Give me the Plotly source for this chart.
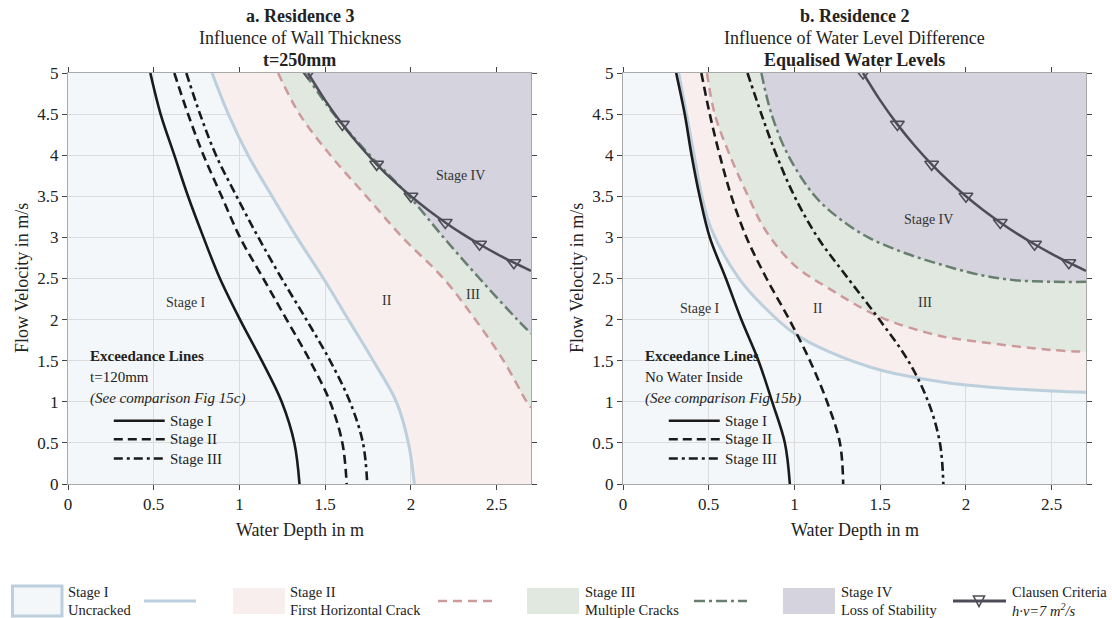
import plotly.graph_objects as go
from plotly.subplots import make_subplots

# ---------------- data ----------------
X_MAX = 2.7
Y_MAX = 5.0
X_TICKS = [0, 0.5, 1, 1.5, 2, 2.5]
X_TICK_LABELS = ["0", "0.5", "1", "1.5", "2", "2.5"]
Y_TICKS = [0, 0.5, 1, 1.5, 2, 2.5, 3, 3.5, 4, 4.5, 5]
Y_TICK_LABELS = ["0", "0.5", "1", "1.5", "2", "2.5", "3", "3.5", "4", "4.5", "5"]

# velocity levels at which the exceedance lines were read (top to bottom)
V_LEVELS = [5.0, 4.5, 4.0, 3.5, 3.0, 2.5, 2.0, 1.5, 1.0, 0.5, 0.0]

# Panel a: Residence 3, t=250mm (boundaries) and t=120mm (exceedance lines)
A_EXC1_H = [0.48, 0.54, 0.62, 0.70, 0.79, 0.886, 1.003, 1.13, 1.246, 1.32, 1.35]
A_EXC2_H = [0.62, 0.70, 0.79, 0.896, 1.003, 1.139, 1.275, 1.411, 1.528, 1.60, 1.625]
A_EXC3_H = [0.69, 0.77, 0.863, 0.983, 1.11, 1.246, 1.39, 1.528, 1.644, 1.72, 1.745]
A_S1_H = [0.84, 0.935, 1.05, 1.19, 1.335, 1.49, 1.635, 1.78, 1.915, 1.985, 2.02]
A_S2_H = [1.225, 1.35, 1.53, 1.74, 1.95, 2.19, 2.375, 2.54, 2.675, 2.70]
A_S2_V = [5.0, 4.5, 4.0, 3.5, 3.0, 2.5, 2.0, 1.5, 1.0, 0.93]
A_S3_H = [1.38, 1.55, 1.76, 1.99, 2.19, 2.40, 2.62, 2.70]
A_S3_V = [5.0, 4.5, 4.0, 3.5, 3.0, 2.5, 2.0, 1.83]

# Panel b: Residence 2, equalised water levels (boundaries), no water inside (exceedance)
B_EXC1_H = [0.31, 0.36, 0.40, 0.447, 0.506, 0.60, 0.69, 0.79, 0.87, 0.944, 0.973]
B_EXC2_H = [0.457, 0.506, 0.564, 0.632, 0.72, 0.837, 0.97, 1.09, 1.19, 1.265, 1.284]
B_EXC3_H = [0.726, 0.807, 0.895, 1.00, 1.135, 1.313, 1.495, 1.663, 1.78, 1.848, 1.868]
B_S1_H = [0.325, 0.37, 0.415, 0.46, 0.515, 0.68, 0.82, 1.00, 1.20, 1.50, 1.85, 2.00, 2.50, 2.70]
B_S1_V = [5.0, 4.5, 4.0, 3.5, 3.1, 2.49, 2.16, 1.83, 1.61, 1.387, 1.245, 1.205, 1.13, 1.116]
B_S2_H = [0.49, 0.535, 0.623, 0.73, 0.83, 1.00, 1.20, 1.50, 1.85, 2.00, 2.50, 2.70]
B_S2_V = [5.0, 4.5, 4.0, 3.5, 3.09, 2.66, 2.38, 2.03, 1.80, 1.75, 1.63, 1.61]
B_S3_H = [0.807, 0.866, 0.963, 1.12, 1.274, 1.43, 1.644, 1.87, 2.09, 2.286, 2.50, 2.70]
B_S3_V = [5.0, 4.5, 4.0, 3.5, 3.21, 3.0, 2.81, 2.66, 2.54, 2.48, 2.46, 2.46]

# Clausen criterion h*v = 7 m^2/s (read values)
CLAUSEN_H = [1.4, 1.5, 1.6, 1.7, 1.8, 1.9, 2.0, 2.1, 2.2, 2.3, 2.4, 2.5, 2.6, 2.7]
CLAUSEN_V = [5.0, 4.667, 4.375, 4.118, 3.889, 3.684, 3.5, 3.333, 3.182, 3.043, 2.917, 2.8, 2.692, 2.593]

# ---------------- styles ----------------
FONT = "Liberation Serif"
C_S1_FILL = "#f3f7f9"
C_S2_FILL = "#f8eeee"
C_S3_FILL = "#e1e8df"
C_S4_FILL = "#d5d3de"
C_S1_LINE = "#bccfdc"
C_S2_LINE = "#cc9a9a"
C_S3_LINE = "#677f6f"
C_CLAUSEN = "#4d4d57"
C_BLACK = "#1a1a1a"
DASH = "9px,5px"
DASHDOT = "9px,4px,3px,4px"
DASH_PINK = "9px,6px"
DASHDOT_GREEN = "11px,4px,3px,4px"

W, H = 1112, 618
def px(v):
    return v / W
def py(v):
    return 1 - v / H

fig = make_subplots(rows=1, cols=2)

def none_line():
    return dict(color="rgba(0,0,0,0)", width=1)

def add_panel(col, exc, s1, s2, s3):
    # filled regions: each boundary + right edge, layered
    for (bh, bv), fillc in [(s1, C_S2_FILL), (s2, C_S3_FILL), (s3, C_S4_FILL)]:
        fig.add_trace(go.Scatter(x=bh, y=bv, mode="lines",
                                 line=dict(color="rgba(0,0,0,0)", width=1, shape="spline"),
                                 hoverinfo="skip", showlegend=False), row=1, col=col)
        fig.add_trace(go.Scatter(x=[X_MAX, X_MAX], y=[Y_MAX, 0], mode="lines",
                                 line=none_line(), fill="tonexty", fillcolor=fillc,
                                 hoverinfo="skip", showlegend=False), row=1, col=col)
    # boundary lines
    fig.add_trace(go.Scatter(x=s1[0], y=s1[1], mode="lines",
                             line=dict(color=C_S1_LINE, width=3, shape="spline"),
                             showlegend=False), row=1, col=col)
    fig.add_trace(go.Scatter(x=s2[0], y=s2[1], mode="lines",
                             line=dict(color=C_S2_LINE, width=2.5, dash=DASH_PINK, shape="spline"),
                             showlegend=False), row=1, col=col)
    fig.add_trace(go.Scatter(x=s3[0], y=s3[1], mode="lines",
                             line=dict(color=C_S3_LINE, width=2.5, dash=DASHDOT_GREEN, shape="spline"),
                             showlegend=False), row=1, col=col)
    # Clausen
    fig.add_trace(go.Scatter(x=CLAUSEN_H, y=CLAUSEN_V, mode="lines",
                             line=dict(color=C_CLAUSEN, width=2.5, shape="spline"),
                             showlegend=False), row=1, col=col)
    fig.add_trace(go.Scatter(x=CLAUSEN_H[:-1:2], y=CLAUSEN_V[:-1:2], mode="markers",
                             marker=dict(symbol="triangle-down-open", size=12,
                                         color=C_CLAUSEN, line=dict(width=1.6, color=C_CLAUSEN)),
                             showlegend=False), row=1, col=col)
    # exceedance lines
    for hx, dash in zip(exc, ["solid", DASH, DASHDOT]):
        fig.add_trace(go.Scatter(x=hx, y=V_LEVELS, mode="lines",
                                 line=dict(color=C_BLACK, width=2.6, dash=dash, shape="spline"),
                                 showlegend=False), row=1, col=col)

add_panel(1, [A_EXC1_H, A_EXC2_H, A_EXC3_H], (A_S1_H, V_LEVELS), (A_S2_H, A_S2_V), (A_S3_H, A_S3_V))
add_panel(2, [B_EXC1_H, B_EXC2_H, B_EXC3_H], (B_S1_H, B_S1_V), (B_S2_H, B_S2_V), (B_S3_H, B_S3_V))

axis_common = dict(showgrid=True, gridcolor="#dcdcdc", gridwidth=1.3, zeroline=False,
                   showline=True, linecolor="#a9a9a9", linewidth=1, mirror="ticks",
                   ticks="outside", ticklen=5, tickcolor="#444", tickwidth=1, automargin=False,
                   tickfont=dict(family=FONT, size=17, color="#222"))
fig.update_xaxes(range=[0, X_MAX], tickvals=X_TICKS, ticktext=X_TICK_LABELS, **axis_common)
fig.update_yaxes(range=[0, Y_MAX], tickvals=Y_TICKS, ticktext=Y_TICK_LABELS, **axis_common)
fig.update_layout(
    xaxis=dict(domain=[px(68), px(531)]),
    xaxis2=dict(domain=[px(623), px(1086)]),
    yaxis=dict(domain=[py(484), py(73)]),
    yaxis2=dict(domain=[py(484), py(73)]),
)

ann = []
def text(x, y, s, size=15, xref="paper", yref="paper", xanchor="center", yanchor="middle", angle=0, color="#222"):
    ann.append(dict(x=x, y=y, xref=xref, yref=yref, text=s, showarrow=False,
                    xanchor=xanchor, yanchor=yanchor, textangle=angle,
                    font=dict(family=FONT, size=size, color=color)))

# titles
for cx, l1, l2, l3 in [(299.5, "<b>a. Residence 3</b>", "Influence of Wall Thickness", "<b>t=250mm</b>"),
                       (854.5, "<b>b. Residence 2</b>", "Influence of Water Level Difference", "<b>Equalised Water Levels</b>")]:
    text(px(cx), py(16), l1, size=18)
    text(px(cx), py(38), l2, size=18)
    text(px(cx), py(60), l3, size=18)
    text(px(cx), py(530), "Water Depth in m", size=18)
for x in [22, 577]:
    text(px(x), py(278), "Flow Velocity in m/s", size=18, angle=-90)

# region labels
for s, x, y in [("Stage I", 0.69, 2.21), ("II", 1.86, 2.23), ("III", 2.36, 2.31), ("Stage IV", 2.29, 3.75)]:
    text(x, y, s, size=14, xref="x", yref="y", color="#333")
for s, x, y in [("Stage I", 0.45, 2.14), ("II", 1.14, 2.14), ("III", 1.76, 2.21), ("Stage IV", 1.78, 3.22)]:
    text(x, y, s, size=14, xref="x2", yref="y2", color="#333")

# exceedance legend blocks
shapes = []
for xr, yr, sub, ref in [("x", "y", "t=120mm", "(See comparison Fig 15c)"),
                         ("x2", "y2", "No Water Inside", "(See comparison Fig 15b)")]:
    text(0.117, 1.56, "<b>Exceedance Lines</b>", size=15, xref=xr, yref=yr, xanchor="left")
    text(0.117, 1.30, sub, size=15, xref=xr, yref=yr, xanchor="left")
    text(0.117, 1.04, "<i>" + ref + "</i>", size=15, xref=xr, yref=yr, xanchor="left")
    for lab, yy, dash in [("Stage I", 0.77, "solid"), ("Stage II", 0.544, DASH), ("Stage III", 0.31, DASHDOT)]:
        shapes.append(dict(type="line", xref=xr, yref=yr, x0=0.267, x1=0.564, y0=yy, y1=yy,
                           line=dict(color=C_BLACK, width=2.6, dash=dash)))
        text(0.585, yy, lab, size=15, xref=xr, yref=yr, xanchor="left")

# bottom legend
def box(x0, x1, y0, y1, fill, line=None):
    shapes.append(dict(type="rect", xref="paper", yref="paper", x0=px(x0), x1=px(x1), y0=py(y1), y1=py(y0),
                       fillcolor=fill, line=line if line else dict(width=0)))
def hline(x0, x1, y, color, width, dash="solid"):
    shapes.append(dict(type="line", xref="paper", yref="paper", x0=px(x0), x1=px(x1), y0=py(y), y1=py(y),
                       line=dict(color=color, width=width, dash=dash)))

LG = 14.5
box(12.5, 62, 586, 616, C_S1_FILL, dict(color=C_S1_LINE, width=3))
text(px(66), py(592), "Stage I", size=LG, xanchor="left")
text(px(66), py(610), "Uncracked", size=LG, xanchor="left")
hline(144, 196, 601, C_S1_LINE, 3)

box(233, 285, 588, 614, C_S2_FILL)
text(px(288), py(592), "Stage II", size=LG, xanchor="left")
text(px(288), py(610), "First Horizontal Crack", size=LG, xanchor="left")
hline(438, 492, 601, C_S2_LINE, 2.5, DASH_PINK)

box(527, 579, 588, 614, C_S3_FILL)
text(px(583), py(592), "Stage III", size=LG, xanchor="left")
text(px(583), py(610), "Multiple Cracks", size=LG, xanchor="left")
hline(694, 747, 601, C_S3_LINE, 2.5, DASHDOT_GREEN)

box(783, 835, 588, 614, C_S4_FILL)
text(px(839), py(592), "Stage IV", size=LG, xanchor="left")
text(px(839), py(610), "Loss of Stability", size=LG, xanchor="left")
hline(953, 1006, 601, C_CLAUSEN, 3)
shapes.append(dict(type="path", xref="paper", yref="paper",
                   path="M %f %f L %f %f L %f %f Z" % (px(973.5), py(596), px(984.5), py(596), px(979), py(606.5)),
                   line=dict(color=C_CLAUSEN, width=1.6), fillcolor="rgba(0,0,0,0)"))
text(px(1010), py(592), "Clausen Criteria", size=LG, xanchor="left")
text(px(1010), py(610), "<i>h·v=7 m<sup>2</sup>/s</i>", size=LG, xanchor="left")

fig.update_layout(width=W, height=H, margin=dict(l=0, r=0, t=0, b=0, autoexpand=False),
                  paper_bgcolor="white", plot_bgcolor=C_S1_FILL,
                  annotations=ann, shapes=shapes, showlegend=False,
                  font=dict(family=FONT))

fig.write_html(
    "out.html",
    config={"displayModeBar": False},
    post_script="document.documentElement.style.margin='0';document.body.style.margin='0';"
                "document.documentElement.style.overflow='hidden';document.body.style.overflow='hidden';",
)
